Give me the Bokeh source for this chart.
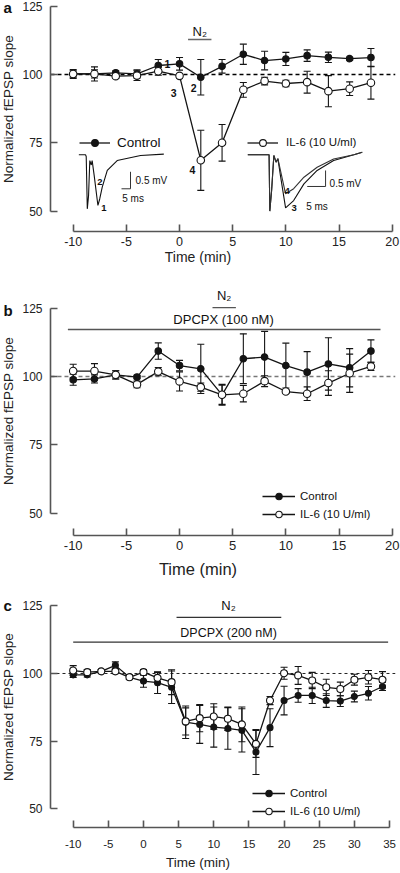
from bokeh.plotting import figure
from bokeh.models import (ColumnDataSource, Whisker, TeeHead, Label, Legend,
                          LegendItem, FixedTicker, Range1d)
from bokeh.layouts import column
from bokeh.embed import file_html
from bokeh.resources import INLINE

FONT = "Liberation Sans"
INK = "#141414"
AXIS = "#555555"

# ---------------- data ----------------
TIME_AB = [-10, -8, -6, -4, -2, 0, 2, 4, 6, 8, 10, 12, 14, 16, 18]

CTRL_A = [100.2, 100.2, 100.6, 100.2, 103.3, 103.9, 99.0, 103.0, 107.4, 105.1, 105.7, 106.9, 106.3, 105.8, 106.2]
CTRL_A_ERR = [1.2, 1.5, 0.8, 1.5, 2.2, 2.3, 6.5, 2.5, 3.7, 3.4, 2.4, 2.1, 1.9, 0.5, 3.3]
IL6_A = [100.2, 100.2, 99.4, 99.6, 101.2, 99.5, 68.6, 75.0, 94.4, 97.6, 96.7, 97.2, 93.9, 94.8, 97.0]
IL6_A_ERR = [1.6, 2.6, 0.8, 1.8, 1.5, 0.8, 11.0, 6.7, 2.7, 1.4, 1.2, 4.0, 5.7, 2.5, 6.0]

CTRL_B = [98.8, 99.1, 100.6, 99.8, 109.3, 104.0, 102.8, 93.3, 106.5, 107.1, 104.0, 101.6, 104.6, 103.2, 109.3]
CTRL_B_ERR = [2.0, 1.5, 1.5, 0.6, 3.0, 1.9, 9.0, 3.8, 9.1, 9.4, 8.2, 7.5, 9.6, 7.0, 4.1]
IL6_B = [102.0, 102.0, 100.6, 97.1, 101.8, 98.2, 96.1, 93.3, 93.7, 98.3, 94.5, 93.7, 97.6, 101.2, 103.7]
IL6_B_ERR = [2.5, 2.7, 1.5, 1.2, 1.5, 3.5, 1.5, 3.5, 3.0, 2.0, 0.6, 2.5, 4.5, 7.0, 1.5]

TIME_C = [-10, -8, -6, -4, -2, 0, 2, 4, 6, 8, 10, 12, 14, 16, 18, 20, 22, 24, 26, 28, 30, 32, 34]
CTRL_C = [99.5, 99.5, 100.8, 103.0, 98.6, 97.2, 96.6, 94.9, 82.0, 81.2, 80.2, 79.7, 79.0, 71.0,
          80.0, 90.0, 91.9, 91.9, 90.0, 89.8, 91.5, 92.7, 95.2]
CTRL_C_ERR = [1.0, 0.8, 0.6, 1.3, 0.8, 2.3, 4.0, 6.0, 6.0, 7.0, 7.4, 7.7, 8.0, 8.3,
              7.0, 5.3, 2.5, 3.0, 2.5, 2.0, 2.0, 2.5, 1.5]
IL6_C = [101.1, 100.5, 100.8, 100.8, 98.6, 100.5, 98.4, 96.8, 82.3, 83.5, 84.1, 83.3, 81.2, 74.0,
         90.0, 100.1, 99.3, 97.4, 94.9, 94.3, 97.7, 98.6, 97.7]
IL6_C_ERR = [1.8, 1.0, 0.6, 0.8, 0.8, 1.0, 2.0, 4.6, 5.0, 5.0, 4.7, 4.3, 6.4, 5.0,
             1.5, 2.2, 3.3, 3.0, 3.0, 2.5, 2.0, 2.5, 3.0]

TICKS_AB = [-10, -5, 0, 5, 10, 15, 20]
TICKS_C = [-10, -5, 0, 5, 10, 15, 20, 25, 30, 35]
Y_TICKS = [50, 75, 100, 125]
BASELINE = 100

# treatment periods (min)
N2_A = [0.8, 3.0]
N2_B = [3.1, 5.3]
N2_C = [4.7, 19.6]
DPCPX_B = [-10.5, 18.9]
DPCPX_C = [-10.0, 34.8]

# example fEPSP traces (ms, mV)
TR_CTRL_MS = [0, 3.7, 4.1, 4.7, 5.4, 6.1, 6.9, 7.4, 8.5, 10.6, 11.6, 13.0, 15.8, 21.3, 34.3, 47.2]
TR_CTRL_MV = [0, 0, -0.05, -1.59, -1.2, -0.17, -0.3, -0.17, -0.6, -1.49, -1.3, -0.95, -0.46, -0.17, -0.02, 0.02]
TR_IL6_MS = [0, 5.8, 6.0, 6.5, 7.1, 7.7, 8.2, 8.9, 10.3, 12.5, 15.3, 18.9, 23.4, 28.9, 31.2]
TR3_MV = [0, 0, -1.76, -1.1, -0.02, -0.23, -0.12, -0.65, -1.66, -1.43, -0.91, -0.49, -0.18, 0, 0.08]
TR4_MV = [0, 0, -1.76, -1.1, -0.02, -0.23, -0.12, -0.49, -1.22, -1.06, -0.70, -0.39, -0.13, 0, 0.08]


def make_fig(h, xr, yr, yaxis_x, xticks, mb_bottom, tick_size, tick_standoff, lab_size, lab_standoff):
    p = figure(width=400, height=h, x_range=Range1d(*xr), y_range=Range1d(*yr),
               output_backend="svg", toolbar_location=None,
               min_border_left=0, min_border_right=5, min_border_top=0,
               min_border_bottom=mb_bottom)
    p.outline_line_color = None
    p.xgrid.visible = False
    p.ygrid.visible = False
    p.background_fill_color = "white"
    p.border_fill_color = "white"
    xa = p.xaxis[0]
    ya = p.yaxis[0]
    for ax in (xa, ya):
        ax.axis_line_color = AXIS
        ax.axis_line_width = 1.6
        ax.major_tick_line_color = AXIS
        ax.major_tick_line_width = 1.6
        ax.major_tick_in = 7
        ax.major_tick_out = 0
        ax.minor_tick_line_color = None
        ax.major_label_text_font = FONT
        ax.major_label_text_color = "#222222"
        ax.axis_label_text_font = FONT
        ax.axis_label_text_font_style = "normal"
        ax.axis_label_text_color = "#222222"
    xa.ticker = FixedTicker(ticks=xticks)
    xa.bounds = (xticks[0], xticks[-1])
    xa.major_label_overrides = {t: str(t) for t in xticks}
    xa.major_label_text_font_size = tick_size
    xa.major_label_standoff = tick_standoff
    xa.axis_label = "Time (min)"
    xa.axis_label_text_font_size = lab_size
    xa.axis_label_standoff = lab_standoff
    ya.ticker = FixedTicker(ticks=Y_TICKS)
    ya.bounds = (Y_TICKS[0], Y_TICKS[-1])
    ya.fixed_location = yaxis_x
    ya.major_label_text_font_size = "12px"
    ya.major_label_standoff = 8
    ya.axis_label = "Normalized fEPSP slope"
    ya.axis_label_text_font_size = "13.5px"
    ya.axis_label_standoff = 3
    return p


def series(p, t, y, e, filled, size):
    src = ColumnDataSource(dict(t=t, y=y,
                                lo=[a - b for a, b in zip(y, e)],
                                hi=[a + b for a, b in zip(y, e)]))
    w = Whisker(source=src, base="t", upper="hi", lower="lo",
                line_color=INK, line_width=1.1,
                upper_head=TeeHead(size=7, line_color=INK, line_width=1.1),
                lower_head=TeeHead(size=7, line_color=INK, line_width=1.1))
    p.add_layout(w)
    lr = p.line("t", "y", source=src, line_color=INK, line_width=1.3)
    sr = p.scatter("t", "y", source=src, marker="circle", size=size,
                   fill_color=INK if filled else "white", line_color=INK, line_width=1.1)
    return lr, sr


def baseline(p, x0, x1, color, dash, width):
    p.line([x0, x1], [BASELINE, BASELINE], line_color=color, line_dash=dash,
           line_width=width, level="underlay")


def label(p, x, y, text, size, align="center", bold=False, color="#111111"):
    p.add_layout(Label(x=x, y=y, text=text, text_font=FONT, text_font_size=size,
                       text_align=align, text_baseline="middle", text_color=color,
                       text_font_style="bold" if bold else "normal"))


def legend(p, items, loc, gw, gh, standoff, spacing, size):
    leg = Legend(items=[LegendItem(label=l, renderers=list(r)) for l, r in items],
                 location=loc, glyph_width=gw, glyph_height=gh, label_height=gh,
                 label_width=10, label_standoff=standoff, spacing=spacing, padding=0,
                 margin=0, border_line_color=None, background_fill_alpha=0,
                 label_text_font=FONT, label_text_font_size=size,
                 label_text_color="#111111")
    p.add_layout(leg)


def inset(p, t, v, x0, y0, kx, ky, **kw):
    p.line([x0 + a * kx for a in t], [y0 + b * ky for b in v], **kw)


# ---------------- panel a ----------------
XR_AB = (-16.837, 20.31)
YAX_AB = -12.135
pa = make_fig(276, XR_AB, (42.55, 127.08), YAX_AB, TICKS_AB, 45, "12.5px", 5, "14px", 0)
baseline(pa, YAX_AB, XR_AB[1], "#000000", "4 3", 1.5)
ca = series(pa, TIME_AB, CTRL_A, CTRL_A_ERR, True, 6.5)
ia = series(pa, TIME_AB, IL6_A, IL6_A_ERR, False, 7.5)
pa.line(N2_A, [112.8, 112.8], line_color="#666666", line_width=1.5)
label(pa, sum(N2_A) / 2, 115.6, "N₂", "13px")
label(pa, -1.13, 104.0, "1", "10.5px", bold=True)
label(pa, 1.32, 95.2, "2", "10.5px", bold=True)
label(pa, -0.56, 93.4, "3", "10.5px", bold=True)
label(pa, 1.22, 65.2, "4", "10.5px", bold=True)
label(pa, -16.55, 124.6, "a", "15px", align="left", bold=True)
legend(pa, [("Control", ca)], (79, 80.5), 31, 17, 7, 0, "13.5px")
legend(pa, [("IL-6 (10 U/ml)", ia)], (247, 80.5), 31, 17, 8, 0, "11.5px")

# control inset
X0C, Y0C, KXC, KYC = -9.47, 70.62, 0.1693, 12.44
inset(pa, TR_CTRL_MS, TR_CTRL_MV, X0C, Y0C, KXC, KYC, line_color="#111111", line_width=1.1)
inset(pa, [23.7, 28.7, 28.7], [-1.0, -1.0, -0.5], X0C, Y0C, KXC, KYC, line_color="#333333", line_width=1.0)
label(pa, X0C + 31.5 * KXC, Y0C - 0.76 * KYC, "0.5 mV", "10px", align="left")
label(pa, X0C + 24.1 * KXC, Y0C - 1.28 * KYC, "5 ms", "10px", align="left")
label(pa, X0C + 11.7 * KXC, Y0C - 0.81 * KYC, "2", "9.5px", bold=True)
label(pa, X0C + 13.9 * KXC, Y0C - 1.56 * KYC, "1", "9.5px", bold=True)

# IL-6 inset
X0I, Y0I, KXI, KYI = 6.42, 70.62, 0.345, 11.71
inset(pa, TR_IL6_MS, TR3_MV, X0I, Y0I, KXI, KYI, line_color="#111111", line_width=1.1)
inset(pa, TR_IL6_MS, TR4_MV, X0I, Y0I, KXI, KYI, line_color="#333333", line_width=1.1)
inset(pa, [16.2, 21.2, 21.2], [-0.99, -0.99, -0.49], X0I, Y0I, KXI, KYI, line_color="#333333", line_width=1.0)
label(pa, X0I + 22.3 * KXI, Y0I - 0.90 * KYI, "0.5 mV", "10px", align="left")
label(pa, X0I + 15.9 * KXI, Y0I - 1.61 * KYI, "5 ms", "10px", align="left")
label(pa, X0I + 10.7 * KXI, Y0I - 1.14 * KYI, "4", "9.5px", bold=True)
label(pa, X0I + 12.6 * KXI, Y0I - 1.66 * KYI, "3", "9.5px", bold=True)

# ---------------- panel b ----------------
pb = make_fig(312, XR_AB, (41.82, 136.59), YAX_AB, TICKS_AB, 53, "13px", 5, "16.5px", 7)
baseline(pb, YAX_AB, XR_AB[1], "#777777", "4 3", 1.3)
cb = series(pb, TIME_AB, CTRL_B, CTRL_B_ERR, True, 6.5)
ib = series(pb, TIME_AB, IL6_B, IL6_B_ERR, False, 7.5)
pb.line(N2_B, [125.2, 125.2], line_color="#555555", line_width=1.3)
label(pb, sum(N2_B) / 2, 129.7, "N₂", "13px")
pb.line(DPCPX_B, [117.2, 117.2], line_color="#555555", line_width=1.5)
label(pb, 4.14, 120.9, "DPCPX (100 nM)", "13px")
label(pb, -16.55, 124.1, "b", "15px", align="left", bold=True)
legend(pb, [("Control", cb), ("IL-6 (10 U/ml)", ib)], (262, 13), 33, 16, 5, 2, "11.5px")

# ---------------- panel c ----------------
XR_C = (-20.341, 35.85)
YAX_C = -13.229
pc = make_fig(285, XR_C, (43.11, 131.40), YAX_C, TICKS_C, 46, "11.5px", 12, "13.5px", 4)
baseline(pc, YAX_C, XR_C[1], "#222222", "3 3", 1.0)
cc = series(pc, TIME_C, CTRL_C, CTRL_C_ERR, True, 6)
ic = series(pc, TIME_C, IL6_C, IL6_C_ERR, False, 7)
pc.line(N2_C, [120.7, 120.7], line_color="#333333", line_width=1.3)
label(pc, 12.1, 125.1, "N₂", "13px")
pc.line(DPCPX_C, [111.6, 111.6], line_color="#333333", line_width=1.3)
label(pc, 12.1, 115.1, "DPCPX (200 nM)", "12.5px")
label(pc, -19.93, 125.1, "c", "15px", align="left", bold=True)
legend(pc, [("Control", cc), ("IL-6 (10 U/ml)", ic)], (252, 8.3), 33, 16, 5, 2, "11.5px")

layout = column(pa, pb, pc, spacing=0)
open("out.html", "w").write(file_html(layout, INLINE))
